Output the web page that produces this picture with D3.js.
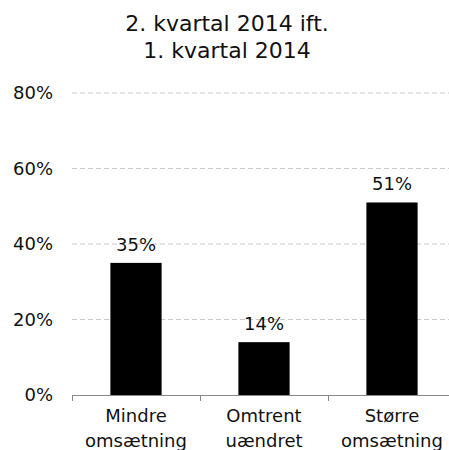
<!DOCTYPE html>
<html>
<head>
<meta charset="utf-8">
<script src="https://cdn.jsdelivr.net/npm/d3@7"></script>
<style>
  body { margin: 0; background: #fff; }
  svg { font-family: "DejaVu Sans", Verdana, sans-serif; }
</style>
</head>
<body>
<svg width="449" height="450"></svg>
<script>
const categories = [["Mindre", "omsætning"], ["Omtrent", "uændret"], ["Større", "omsætning"]];
const values = [35, 14, 51];
const yTicks = [0, 20, 40, 60, 80];
const titleLines = ["2. kvartal 2014 ift.", "1. kvartal 2014"];

const svg = d3.select("svg");
const margin = { left: 72, top: 93, bottom: 395 };
const plotRight = 456;

const x = d3.scaleBand()
    .domain(d3.range(categories.length))
    .range([margin.left, plotRight])
    .paddingInner(0.6)
    .paddingOuter(0.3);

const y = d3.scaleLinear().domain([0, 80]).range([margin.bottom, margin.top]);

// title
svg.append("text")
    .attr("text-anchor", "middle")
    .attr("font-size", 22)
    .attr("fill", "#111")
    .selectAll("tspan").data(titleLines).join("tspan")
    .attr("x", 227)
    .attr("y", (d, i) => 31 + i * 27)
    .text(d => d);

// gridlines
svg.append("g").selectAll("line").data(yTicks.filter(d => d > 0)).join("line")
    .attr("x1", margin.left).attr("x2", 449)
    .attr("y1", d => y(d)).attr("y2", d => y(d))
    .attr("stroke", "#c8c8c8")
    .attr("stroke-dasharray", "5,3");

// y tick labels
svg.append("g").selectAll("text").data(yTicks).join("text")
    .attr("x", 53)
    .attr("y", d => y(d))
    .attr("dy", "0.35em")
    .attr("text-anchor", "end")
    .attr("font-size", 18)
    .attr("fill", "#111")
    .text(d => d + "%");

// bars
svg.append("g").selectAll("rect").data(values).join("rect")
    .attr("x", (d, i) => x(i))
    .attr("width", x.bandwidth())
    .attr("y", d => y(d))
    .attr("height", d => y(0) - y(d))
    .attr("fill", "#000");

// value labels
svg.append("g").selectAll("text").data(values).join("text")
    .attr("x", (d, i) => x(i) + x.bandwidth() / 2)
    .attr("y", d => y(d) - 12)
    .attr("text-anchor", "middle")
    .attr("font-size", 18)
    .attr("fill", "#111")
    .text(d => d + "%");

// x axis line and ticks
const step = (plotRight - margin.left) / categories.length;
const axis = svg.append("g").attr("stroke", "#888");
axis.append("line")
    .attr("x1", margin.left).attr("x2", 449)
    .attr("y1", y(0) + 0.5).attr("y2", y(0) + 0.5);
axis.selectAll("line.tick").data(d3.range(categories.length + 1)).join("line")
    .attr("class", "tick")
    .attr("x1", i => margin.left + i * step + 0.5).attr("x2", i => margin.left + i * step + 0.5)
    .attr("y1", y(0)).attr("y2", y(0) + 6);

// category labels
const cat = svg.append("g").selectAll("text").data(categories).join("text")
    .attr("text-anchor", "middle")
    .attr("font-size", 18)
    .attr("fill", "#111");
cat.selectAll("tspan").data((d, i) => d.map(t => ({ t, i }))).join("tspan")
    .attr("x", d => x(d.i) + x.bandwidth() / 2)
    .attr("y", (d, j) => 422 + j * 25)
    .text(d => d.t);
</script>
</body>
</html>
